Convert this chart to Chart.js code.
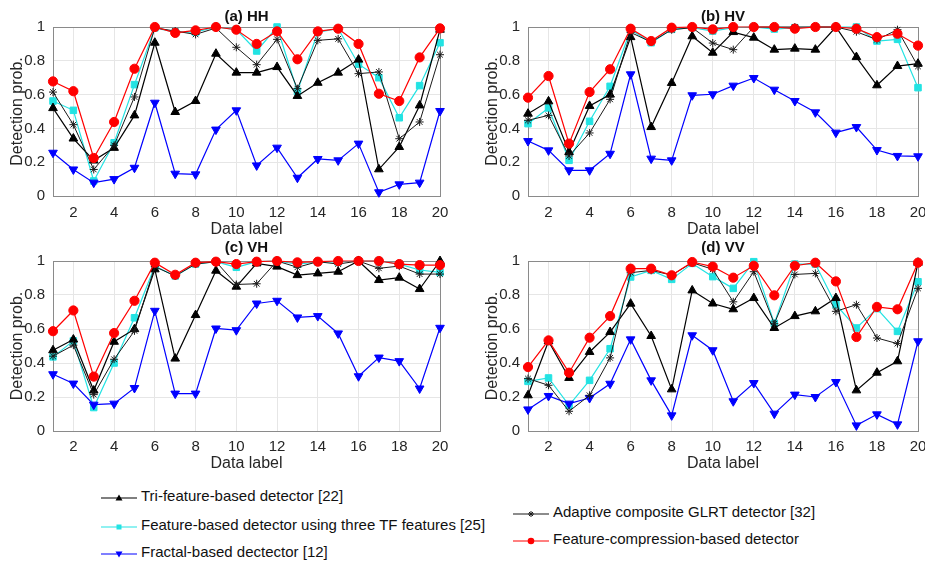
<!DOCTYPE html>
<html><head><meta charset="utf-8">
<script src="https://cdn.jsdelivr.net/npm/chart.js@4.4.1/dist/chart.umd.min.js"></script>
<style>
html,body{margin:0;padding:0;background:#fff;overflow:hidden;width:925px;height:563px;position:relative;}
canvas{position:absolute;display:block;}
.legtxt{position:absolute;font-family:"Liberation Sans",Arial,sans-serif;font-size:15px;line-height:18px;color:#111;white-space:nowrap;}
.legsym{position:absolute;}
</style></head><body>
<canvas id="c0" width="460" height="240" style="left:0;top:0"></canvas>
<canvas id="c1" width="465" height="240" style="left:475px;top:0"></canvas>
<canvas id="c2" width="460" height="240" style="left:0;top:234px"></canvas>
<canvas id="c3" width="465" height="240" style="left:475px;top:234px"></canvas>
<div id="legend"></div>
<script>
// ---------- data ----------
const dataLabels = [1,2,3,4,5,6,7,8,9,10,11,12,13,14,15,16,17,18,19,20];
const xTickValues = [2,4,6,8,10,12,14,16,18,20];
const yTickValues = [0,0.2,0.4,0.6,0.8,1];
const panelTitles = ['(a) HH','(b) HV','(c) VH','(d) VV'];
const xAxisTitle = 'Data label';
const yAxisTitle = 'Detection prob.';
const seriesNames = [
  'Tri-feature-based detector [22]',
  'Feature-based detector using three TF features [25]',
  'Fractal-based dectector [12]',
  'Adaptive composite GLRT detector [32]',
  'Feature-compression-based detector'
];

// (a) HH
const hhTri     = [0.52,0.34,0.21,0.285,0.477,0.907,0.497,0.562,0.842,0.73,0.73,0.763,0.592,0.67,0.73,0.807,0.158,0.29,0.536,0.984];
const hhTF      = [0.562,0.507,0.089,0.315,0.659,0.995,0.97,0.97,1.0,0.985,0.858,1.0,0.62,0.97,0.99,0.78,0.70,0.463,0.653,0.907];
const hhFractal = [0.256,0.157,0.079,0.1,0.167,0.552,0.132,0.128,0.393,0.507,0.181,0.286,0.108,0.219,0.211,0.31,0.022,0.069,0.079,0.503];
const hhGLRT    = [0.615,0.422,0.157,0.3,0.586,0.995,0.976,0.956,0.994,0.88,0.777,0.927,0.635,0.921,0.93,0.724,0.734,0.339,0.438,0.836];
const hhFC      = [0.678,0.62,0.225,0.438,0.753,1.0,0.965,0.98,1.0,0.984,0.90,0.974,0.809,0.974,0.99,0.90,0.605,0.562,0.82,0.992];
// (b) HV
const hvTri     = [0.487,0.56,0.26,0.533,0.6,0.94,0.408,0.669,0.945,0.848,0.97,0.937,0.866,0.872,0.866,1.0,0.822,0.655,0.769,0.783];
const hvTF      = [0.428,0.521,0.211,0.442,0.649,0.984,0.907,0.986,0.996,0.976,0.996,1.0,0.988,0.996,1.0,1.0,1.0,0.917,0.927,0.641];
const hvFractal = [0.325,0.27,0.152,0.152,0.25,0.72,0.221,0.211,0.596,0.602,0.653,0.698,0.629,0.562,0.495,0.375,0.408,0.272,0.237,0.235];
const hvGLRT    = [0.448,0.477,0.237,0.373,0.572,0.968,0.911,0.984,0.996,0.905,0.866,1.0,1.0,1.0,1.0,1.0,0.972,0.925,0.984,0.767];
const hvFC      = [0.582,0.71,0.31,0.615,0.75,0.99,0.917,0.996,1.0,0.986,1.0,1.0,1.0,0.99,1.0,1.0,0.99,0.94,0.96,0.89];
// (c) VH
const vhTri     = [0.475,0.538,0.238,0.525,0.599,0.951,0.426,0.682,0.943,0.849,0.986,0.967,0.917,0.927,0.937,1.0,0.888,0.902,0.835,1.0];
const vhTF      = [0.436,0.53,0.138,0.40,0.666,0.97,0.912,0.982,0.996,0.963,0.996,1.0,0.982,0.994,0.994,1.0,1.0,0.982,0.947,0.933];
const vhFractal = [0.334,0.279,0.155,0.161,0.253,0.707,0.22,0.22,0.603,0.593,0.75,0.766,0.668,0.676,0.574,0.322,0.432,0.411,0.25,0.607];
const vhGLRT    = [0.44,0.505,0.214,0.422,0.589,0.967,0.912,0.982,0.996,0.862,0.866,1.0,0.963,0.996,0.982,1.0,0.957,0.97,0.923,0.923];
const vhFC      = [0.587,0.709,0.32,0.576,0.766,0.99,0.919,0.99,0.996,0.982,0.996,1.0,0.992,0.996,1.0,1.0,1.0,0.982,0.976,0.976];
// (d) VV
const vvTri     = [0.21,0.528,0.312,0.465,0.582,0.749,0.559,0.245,0.827,0.75,0.716,0.782,0.606,0.676,0.704,0.782,0.239,0.343,0.41,0.99];
const vvTF      = [0.292,0.312,0.151,0.298,0.484,0.906,0.945,0.892,0.986,0.908,0.839,0.996,0.633,0.982,0.982,0.743,0.606,0.72,0.586,0.878];
const vvFractal = [0.127,0.206,0.161,0.194,0.278,0.539,0.298,0.092,0.563,0.475,0.175,0.282,0.102,0.214,0.2,0.288,0.033,0.098,0.039,0.528];
const vvGLRT    = [0.308,0.269,0.116,0.21,0.43,0.931,0.945,0.917,0.99,0.951,0.76,0.937,0.631,0.921,0.927,0.704,0.743,0.547,0.514,0.839];
const vvFC      = [0.376,0.533,0.343,0.549,0.676,0.955,0.955,0.916,0.994,0.967,0.902,0.972,0.798,0.972,0.99,0.88,0.553,0.73,0.716,0.99];

const panelSeries = [
  [hhTri, hhTF, hhFractal, hhGLRT, hhFC],
  [hvTri, hvTF, hvFractal, hvGLRT, hvFC],
  [vhTri, vhTF, vhFractal, vhGLRT, vhFC],
  [vvTri, vvTF, vvFractal, vvGLRT, vvFC]
];

// ---------- styles & layout ----------
const seriesStyle = [
  {color:'#000000', point:'triangle', r:5,   rot:0,   order:3, lw:1.2},
  {color:'#22e3e3', point:'rect',     r:4.6, rot:0,   order:4, lw:1.2},
  {color:'#0000ff', point:'triangle', r:5,   rot:180, order:2, lw:1.2},
  {color:'#1a1a1a', point:'star',     r:4,   rot:0,   order:1, lw:1.0},
  {color:'#ff0000', point:'circle',   r:4.6, rot:0,   order:0, lw:1.2}
];
const panelLayout = [
  {yw:53, xh:44, padR:20, tTop:8, tBot:1, tickPad:8},
  {yw:53, xh:44, padR:22, tTop:8, tBot:1, tickPad:8},
  {yw:53, xh:43, padR:20, tTop:5, tBot:4, tickPad:7},
  {yw:53, xh:43, padR:22, tTop:5, tBot:4, tickPad:7}
];
const FONT = "'Liberation Sans', Arial, Helvetica, sans-serif";
const TXT = '#262626';

const boxPlugin = {
  id:'box',
  beforeDatasetsDraw(chart){
    const {ctx, chartArea:a} = chart;
    ctx.save();
    ctx.strokeStyle = '#8a8a8a';
    ctx.lineWidth = 1;
    ctx.strokeRect(Math.round(a.left)+0.5, Math.round(a.top)+0.5, Math.round(a.right-a.left), Math.round(a.bottom-a.top));
    ctx.restore();
  }
};

panelSeries.forEach((series, p) => {
  const L = panelLayout[p];
  const datasets = series.map((vals, i) => {
    const s = seriesStyle[i];
    return {
      label: seriesNames[i],
      data: vals.map((v, k) => ({x: dataLabels[k], y: v})),
      borderColor: s.color,
      backgroundColor: s.color,
      borderWidth: s.lw,
      pointStyle: s.point,
      pointRadius: s.r,
      pointRotation: s.rot,
      pointBackgroundColor: s.color,
      pointBorderColor: s.color,
      pointBorderWidth: 1,
      tension: 0,
      order: s.order,
      clip: false
    };
  });
  new Chart(document.getElementById('c' + p), {
    type: 'line',
    data: {datasets},
    plugins: [boxPlugin],
    options: {
      responsive: false,
      animation: false,
      events: [],
      layout: {padding: {left: 0, right: L.padR, top: 0, bottom: 0}},
      plugins: {
        legend: {display: false},
        tooltip: {enabled: false},
        title: {
          display: true, text: panelTitles[p], fullSize: false,
          color: '#111', font: {family: FONT, size: 15, weight: 'bold'},
          padding: {top: L.tTop, bottom: L.tBot}
        }
      },
      scales: {
        x: {
          type: 'linear', min: 1, max: 20,
          afterBuildTicks: s => { s.ticks = xTickValues.map(v => ({value: v})); },
          afterFit: s => { s.height = L.xh; },
          grid: {color: '#e6e6e6', drawTicks: false, lineWidth: 1},
          border: {display: true, color: '#8a8a8a'},
          ticks: {padding: L.tickPad, color: TXT, font: {family: FONT, size: 15}, maxRotation: 0, autoSkip: false},
          title: {display: true, text: xAxisTitle, color: TXT, font: {family: FONT, size: 16}, padding: {top: 0, bottom: 1}}
        },
        y: {
          type: 'linear', min: 0, max: 1,
          afterBuildTicks: s => { s.ticks = yTickValues.map(v => ({value: v})); },
          afterFit: s => { s.width = L.yw; },
          grid: {color: '#e6e6e6', drawTicks: false, lineWidth: 1},
          border: {display: true, color: '#8a8a8a'},
          ticks: {padding: 8, color: TXT, font: {family: FONT, size: 15},
                  callback: v => String(Math.round(v * 10) / 10)},
          title: {display: true, text: yAxisTitle, color: TXT, font: {family: FONT, size: 16}, padding: {top: 8, bottom: 0}}
        }
      }
    }
  });
});

// ---------- legend (HTML) ----------
const legendPos = [
  {x:101, y:496}, {x:101, y:525}, {x:101, y:552}, {x:513, y:512}, {x:513, y:539}
];
function markerSvg(i){
  const s = seriesStyle[i], c = s.color, cx = 18, cy = 6;
  let m = '';
  if (i === 0) m = `<polygon points="${cx},${cy-3.5} ${cx+3.5},${cy+2.5} ${cx-3.5},${cy+2.5}" fill="${c}"/>`;
  else if (i === 1) m = `<rect x="${cx-2.5}" y="${cy-2.5}" width="5" height="5" fill="${c}"/>`;
  else if (i === 2) m = `<polygon points="${cx},${cy+3.5} ${cx+3.5},${cy-2.5} ${cx-3.5},${cy-2.5}" fill="${c}"/>`;
  else if (i === 3) m = `<g stroke="${c}" stroke-width="1"><line x1="${cx-3}" y1="${cy}" x2="${cx+3}" y2="${cy}"/><line x1="${cx}" y1="${cy-3}" x2="${cx}" y2="${cy+3}"/><line x1="${cx-2}" y1="${cy-2}" x2="${cx+2}" y2="${cy+2}"/><line x1="${cx-2}" y1="${cy+2}" x2="${cx+2}" y2="${cy-2}"/></g>`;
  else m = `<circle cx="${cx}" cy="${cy}" r="3.3" fill="${c}"/>`;
  return `<svg width="37" height="12" viewBox="0 0 37 12"><line x1="0" y1="6" x2="36" y2="6" stroke="${c}" stroke-width="1.2"/>${m}</svg>`;
}
const leg = document.getElementById('legend');
seriesNames.forEach((name, i) => {
  const pos = legendPos[i];
  const sym = document.createElement('div');
  sym.className = 'legsym';
  sym.style.left = pos.x + 'px';
  sym.style.top = (pos.y - 6) + 'px';
  sym.innerHTML = markerSvg(i);
  leg.appendChild(sym);
  const t = document.createElement('div');
  t.className = 'legtxt';
  t.style.left = (pos.x + 40) + 'px';
  t.style.top = (pos.y - 9) + 'px';
  t.textContent = name;
  leg.appendChild(t);
});
</script>
</body></html>
